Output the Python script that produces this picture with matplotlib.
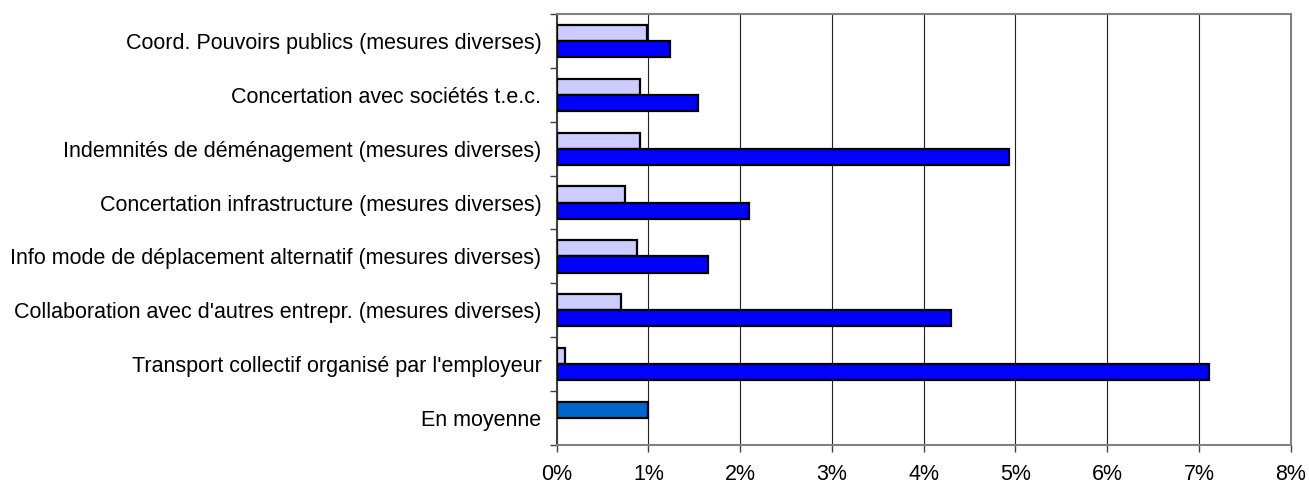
import matplotlib
matplotlib.use("Agg")
import matplotlib.pyplot as plt
import numpy as np
from matplotlib.ticker import FixedLocator, PercentFormatter

plt.rcParams['font.family'] = ['Liberation Sans', 'DejaVu Sans']

categories = [
    "Coord. Pouvoirs publics (mesures diverses)",
    "Concertation avec sociétés t.e.c.",
    "Indemnités de déménagement (mesures diverses)",
    "Concertation infrastructure (mesures diverses)",
    "Info mode de déplacement alternatif (mesures diverses)",
    "Collaboration avec d'autres entrepr. (mesures diverses)",
    "Transport collectif organisé par l'employeur",
    "En moyenne",
]
# upper bar of each group (percent)
series_light = [0.98, 0.91, 0.91, 0.74, 0.88, 0.70, 0.09, 1.00]
# lower bar of each group (percent); no second bar for the average
series_blue = [1.23, 1.54, 4.93, 2.10, 1.65, 4.30, 7.11, None]
x_ticks = [0, 1, 2, 3, 4, 5, 6, 7, 8]

light_colors = ['#CCCCFF'] * 7 + ['#0066CC']

fig = plt.figure(figsize=(13.09, 4.86), dpi=100)
ax = fig.add_axes([0.4253, 0.0844, 0.9860 - 0.4253, 0.9712 - 0.0844])

y = np.arange(len(categories))
h = 0.3
ax.barh(y - h / 2, series_light, height=h, color=light_colors,
        edgecolor='black', linewidth=1.6, zorder=3)
blue_idx = [i for i, v in enumerate(series_blue) if v is not None]
ax.barh(y[blue_idx] + h / 2, [series_blue[i] for i in blue_idx], height=h,
        color='#0000FF', edgecolor='black', linewidth=1.6, zorder=3)

ax.set_xlim(0, 8)
ax.set_ylim(len(categories) - 0.5, -0.5)
ax.set_xticks(x_ticks)
ax.xaxis.set_major_formatter(PercentFormatter(decimals=0))
ax.set_yticks(y)
ax.set_yticklabels(categories)
ax.yaxis.set_minor_locator(FixedLocator(np.arange(-0.5, len(categories), 1.0)))
ax.tick_params(axis='y', which='major', length=0, pad=11, labelsize=15.5)
ax.tick_params(axis='y', which='minor', length=5, width=1, color='#404040', direction='out')
ax.tick_params(axis='x', length=5, width=1, color='#404040', direction='out',
               labelsize=15.5, pad=8.5)

ax.grid(axis='x', color='#202020', linewidth=0.8, zorder=0)
ax.set_axisbelow(True)
for side in ['top', 'right', 'bottom']:
    ax.spines[side].set_color('#808080')
    ax.spines[side].set_linewidth(1.5)
ax.spines['left'].set_color('#404040')
ax.spines['left'].set_linewidth(1.5)

fig.savefig('out.png', dpi=100)
